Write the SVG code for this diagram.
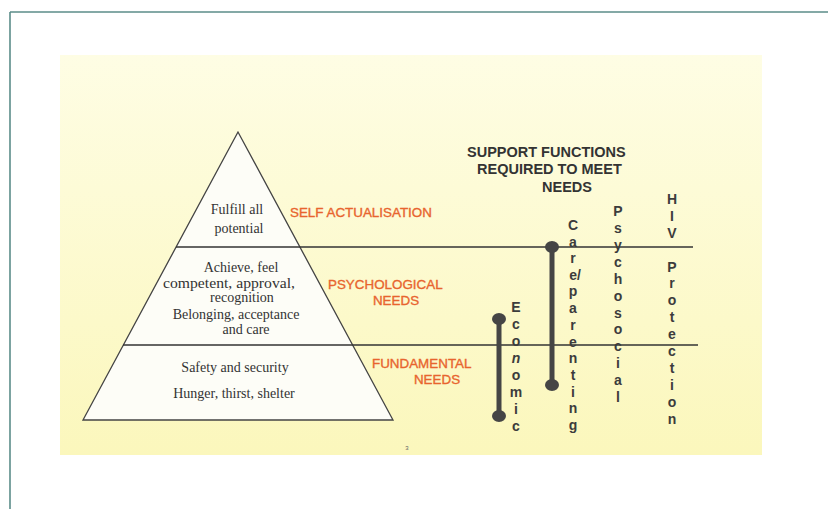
<svg xmlns="http://www.w3.org/2000/svg" width="828" height="509" viewBox="0 0 828 509">
<defs>
<linearGradient id="bg" x1="0" y1="0" x2="0" y2="1">
<stop offset="0" stop-color="#fefde4"/>
<stop offset="1" stop-color="#fbf7bc"/>
</linearGradient>
<style>
.ser{font-family:"Liberation Serif","Times New Roman",serif;font-size:14px;fill:#333;text-anchor:middle}
.org{font-family:"Liberation Sans",Arial,sans-serif;font-size:13.4px;fill:#e8642e;stroke:#e8642e;stroke-width:0.35}
.hdr{font-family:"Liberation Sans",Arial,sans-serif;font-size:14.5px;font-weight:bold;fill:#333}
.vt{font-family:"Liberation Sans",Arial,sans-serif;font-size:14px;font-weight:bold;fill:#3c3c3c;text-anchor:middle}
.ln{stroke:#333;stroke-width:1.3;fill:none}
.bar{stroke:#454545;stroke-width:5;fill:none}
.dot{fill:#454545}
</style>
</defs>
<rect width="828" height="509" fill="#ffffff"/>
<line x1="10" y1="12" x2="828" y2="12" stroke="#5b8c89" stroke-width="1.6"/>
<line x1="10" y1="12" x2="10" y2="509" stroke="#5b8c89" stroke-width="1.6"/>
<rect x="60" y="55" width="702" height="400" fill="url(#bg)"/>

<g id="pyramid">
<polygon points="238,132 83,420 393,420" fill="#fdfdf7" stroke="#444" stroke-width="1.3"/>
</g>
<g id="connectors">
<line class="ln" x1="176" y1="247" x2="693" y2="247"/>
<line class="ln" x1="123" y1="345" x2="698" y2="345"/>
</g>
<g id="level-top">
<text class="ser" x="237" y="214">Fulfill all</text>
<text class="ser" x="239" y="233">potential</text>
</g>
<g id="level-mid">
<text class="ser" x="241" y="272">Achieve, feel</text>
<text class="ser" x="229" y="288" textLength="132" lengthAdjust="spacingAndGlyphs">competent, approval,</text>
<text class="ser" x="242" y="302">recognition</text>
<text class="ser" x="236" y="319">Belonging, acceptance</text>
<text class="ser" x="246" y="334">and care</text>
</g>
<g id="level-base">
<text class="ser" x="235" y="372">Safety and security</text>
<text class="ser" x="234" y="398">Hunger, thirst, shelter</text>
</g>
<g id="labels">
<text class="org" x="290" y="217">SELF ACTUALISATION</text>
<text class="org" x="328" y="289">PSYCHOLOGICAL</text>
<text class="org" x="396" y="305" text-anchor="middle">NEEDS</text>
<text class="org" x="372" y="368">FUNDAMENTAL</text>
<text class="org" x="437" y="384" text-anchor="middle">NEEDS</text>
</g>
<g id="header">
<text class="hdr" x="467" y="157">SUPPORT FUNCTIONS</text>
<text class="hdr" x="477" y="174">REQUIRED TO MEET</text>
<text class="hdr" x="542" y="192">NEEDS</text>
</g>
<g id="economic">
<line class="bar" x1="499" y1="319" x2="499" y2="416"/>
<ellipse class="dot" cx="499" cy="319" rx="7" ry="6"/>
<ellipse class="dot" cx="499" cy="416" rx="7" ry="6"/>
<text class="vt"><tspan x="516" y="312">E</tspan><tspan x="516" y="329">c</tspan><tspan x="516" y="346">o</tspan><tspan x="516" y="363" font-style="italic">n</tspan><tspan x="516" y="380">o</tspan><tspan x="516" y="397">m</tspan><tspan x="516" y="414">i</tspan><tspan x="516" y="431">c</tspan></text>
</g>
<g id="care">
<line class="bar" x1="552" y1="247" x2="552" y2="385"/>
<ellipse class="dot" cx="552" cy="247" rx="7" ry="6"/>
<ellipse class="dot" cx="552" cy="385" rx="7" ry="6"/>
<text class="vt"><tspan x="573" y="230">C</tspan><tspan x="573" y="247">a</tspan><tspan x="573" y="263">r</tspan><tspan x="575" y="280">e/</tspan><tspan x="573" y="296">p</tspan><tspan x="573" y="313">a</tspan><tspan x="573" y="330">r</tspan><tspan x="573" y="347">e</tspan><tspan x="573" y="363">n</tspan><tspan x="573" y="380">t</tspan><tspan x="573" y="397">i</tspan><tspan x="573" y="413">n</tspan><tspan x="573" y="430">g</tspan></text>
</g>
<g id="psychosocial">
<text class="vt"><tspan x="618" y="216">P</tspan><tspan x="618" y="233">s</tspan><tspan x="618" y="250">y</tspan><tspan x="618" y="267">c</tspan><tspan x="618" y="284">h</tspan><tspan x="618" y="301">o</tspan><tspan x="618" y="318">s</tspan><tspan x="618" y="334">o</tspan><tspan x="618" y="351">c</tspan><tspan x="618" y="368">i</tspan><tspan x="618" y="385">a</tspan><tspan x="618" y="402">l</tspan></text>
</g>
<g id="hiv">
<text class="vt"><tspan x="672" y="204">H</tspan><tspan x="672" y="221">I</tspan><tspan x="672" y="238">V</tspan><tspan x="672" y="272">P</tspan><tspan x="672" y="288">r</tspan><tspan x="672" y="305">o</tspan><tspan x="672" y="322">t</tspan><tspan x="672" y="339">e</tspan><tspan x="672" y="356">c</tspan><tspan x="672" y="373">t</tspan><tspan x="672" y="390">i</tspan><tspan x="672" y="407">o</tspan><tspan x="672" y="424">n</tspan></text>
</g>
<text x="407" y="450" font-family="Liberation Sans,Arial,sans-serif" font-size="6" fill="#666" text-anchor="middle">3</text>
</svg>
